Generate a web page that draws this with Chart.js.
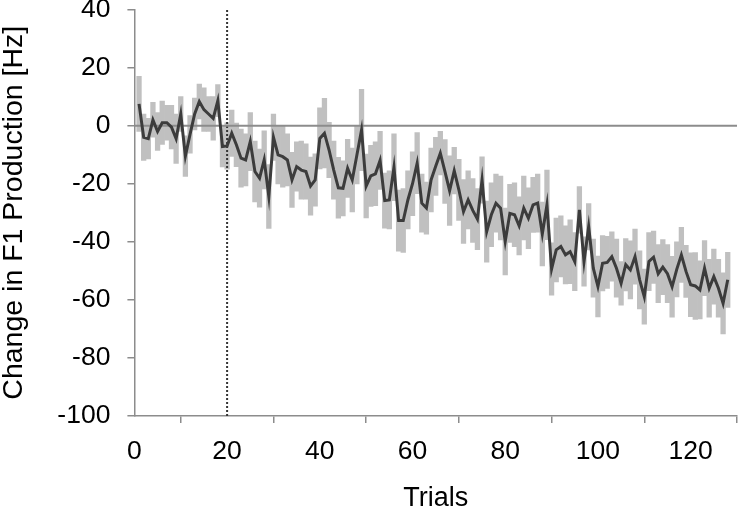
<!DOCTYPE html>
<html>
<head>
<meta charset="utf-8">
<script src="https://cdn.jsdelivr.net/npm/chart.js@4"></script>
<style>
  html, body { margin: 0; padding: 0; background: #fff; }
  #wrap { width: 740px; height: 515px; }
</style>
</head>
<body>
<div id="wrap"><canvas id="myChart" width="740" height="515"></canvas></div>
<script>
// mean change in F1 per trial (Hz), trials 1..128
var meanChange = [
    7.5, -4, -4.5, 2, -2, 1, 1, -0.5, -4.5, 4,
    -10.5, -3, 4, 8.3, 5.5, 4, 2.5, 8.6, -7.2, -7,
    -2.6, -6.6, -11.2, -11.8, -5.5, -15.8, -18.1, -11.8, -24.4, -4,
    -10.1, -10.7, -11.8, -18.7, -14.1, -15.3, -15.8, -20.8, -18.7, -4.4,
    -2.6, -8.4, -15.3, -21.4, -21.6, -14.7, -18.7, -10.1, -1.5, -20.8,
    -17.3, -16.6, -12, -25.8, -25.6, -14.3, -32.7, -32.7, -25.6, -20,
    -12.9, -26.7, -28.4, -18.7, -14, -9.5, -15.8, -22.4, -15.5, -22.1,
    -29.6, -25.6, -29.2, -32.2, -18.7, -36.5, -30.7, -26.7, -28.4, -39.9,
    -30.2, -30.7, -34.5, -28.4, -31.9, -27.3, -26.7, -37.3, -27.3, -49.4,
    -42.8, -41.6, -44.5, -43.4, -46.8, -29, -46.8, -34.8, -49.1, -55.4,
    -47.4, -47.1, -45.1, -49.1, -54.3, -47.9, -49.7, -45.1, -53.1, -58.9,
    -46.8, -45.3, -51, -48.7, -51, -55.5, -49.5, -44.5, -50.2, -54.8,
    -55.2, -56.6, -49.1, -56, -52, -56, -61.2, -53.1
];

// error bar half-heights (Hz)
var errorSize = [
    9.5, 8, 7, 6, 6.5, 7.5, 6, 7.5, 8.5, 6,
    7, 6.5, 5.5, 6, 7.5, 6, 7.5, 5.5, 7, 8,
    8, 7.5, 10, 9, 10, 10.5, 10, 10, 11, 8,
    10, 10.5, 9, 9.5, 8.5, 10, 9.5, 10, 9, 10.5,
    12, 9.5, 10, 10.5, 9.5, 10, 11, 10, 14, 11,
    10.5, 11, 10, 9.5, 10, 11.5, 10.5, 11, 10, 11,
    10.5, 10, 9, 11, 10, 7.5, 11, 12, 8, 10.5,
    11, 10, 11, 10.5, 8, 10.5, 11, 10, 11, 11.5,
    10, 11, 10, 11, 10.5, 9.5, 10, 11, 12, 9,
    11, 10.5, 10, 11, 10, 8, 8.5, 8, 10, 10.5,
    9.5, 9, 8.5, 10, 7.5, 9, 10, 9.5, 10, 9.5,
    10, 9, 10, 9.5, 10, 10.5, 9.5, 9.5, 9, 11,
    11.5, 10, 9.5, 10, 9.5, 10, 10.5, 9.5
];

var xTicks = [0, 20, 40, 60, 80, 100, 120];
var yTicks = [-100, -80, -60, -40, -20, 0, 20, 40];
var xRange = [0, 130];
var baselineY = 0;
var phaseStartTrial = 20;

var trials = [];
for (let i = 0; i < meanChange.length; i++) trials.push(i + 1);

var meanPoints = trials.map((t, i) => ({x: t, y: meanChange[i]}));
var errorBars = trials.map((t, i) => ({x: t, y: [meanChange[i] - errorSize[i], meanChange[i] + errorSize[i]]}));

var fontFamily = "'Liberation Sans', Arial, sans-serif";
var axisGray = '#8c8c8c';

var myChart = new Chart(document.getElementById('myChart').getContext('2d'), {
    type: 'line',
    data: {
        datasets: [{
            type: 'line',
            data: meanPoints,
            borderColor: '#3c3c3c',
            borderWidth: 3,
            pointRadius: 0,
            tension: 0,
            order: 0
        }, {
            type: 'line',
            data: [{x: xRange[0], y: baselineY}, {x: xRange[1], y: baselineY}],
            borderColor: axisGray,
            borderWidth: 2,
            pointRadius: 0,
            order: 1
        }, {
            type: 'line',
            data: [{x: phaseStartTrial, y: yTicks[0]}, {x: phaseStartTrial, y: yTicks[yTicks.length - 1]}],
            borderColor: '#333333',
            borderWidth: 2,
            borderDash: [2, 2],
            pointRadius: 0,
            order: 1
        }, {
            type: 'bar',
            data: errorBars,
            backgroundColor: '#c0c0c0',
            borderWidth: 0,
            barPercentage: 1,
            categoryPercentage: 1,
            order: 2
        }]
    },
    options: {
        responsive: false,
        animation: false,
        layout: {
            autoPadding: false,
            padding: {top: 9.5, right: 3, left: 0, bottom: 0}
        },
        plugins: {
            legend: {display: false},
            tooltip: {enabled: false}
        },
        scales: {
            x: {
                type: 'linear',
                min: xRange[0],
                max: xRange[1],
                offset: false,
                afterFit: (s) => { s.height = 99; s.paddingLeft = 0; s.paddingRight = 0; },
                afterBuildTicks: (s) => { s.ticks = xTicks.map(v => ({value: v})); },
                border: {color: axisGray, width: 1.5},
                grid: {drawOnChartArea: false, drawTicks: true, tickLength: 7, color: axisGray, lineWidth: 1.5},
                ticks: {
                    color: '#000',
                    padding: 13,
                    maxRotation: 0,
                    font: {family: fontFamily, size: 26.5}
                },
                title: {
                    display: true,
                    text: 'Trials',
                    color: '#000',
                    padding: {top: 0, bottom: 0},
                    font: {family: fontFamily, size: 27}
                }
            },
            y: {
                min: yTicks[0],
                max: yTicks[yTicks.length - 1],
                afterFit: (s) => { s.width = 134.4; s.paddingTop = 0; s.paddingBottom = 0; },
                afterBuildTicks: (s) => { s.ticks = yTicks.map(v => ({value: v})); },
                border: {color: axisGray, width: 1.5},
                grid: {drawOnChartArea: false, drawTicks: true, tickLength: 7, color: axisGray, lineWidth: 1.5},
                ticks: {
                    color: '#000',
                    padding: 17,
                    font: {family: fontFamily, size: 26.5}
                },
                title: {
                    display: true,
                    text: 'Change in F1 Production [Hz]',
                    color: '#000',
                    padding: {top: 0, bottom: 0},
                    font: {family: fontFamily, size: 28.5, lineHeight: 1}
                }
            }
        }
    }
});
</script>
</body>
</html>
